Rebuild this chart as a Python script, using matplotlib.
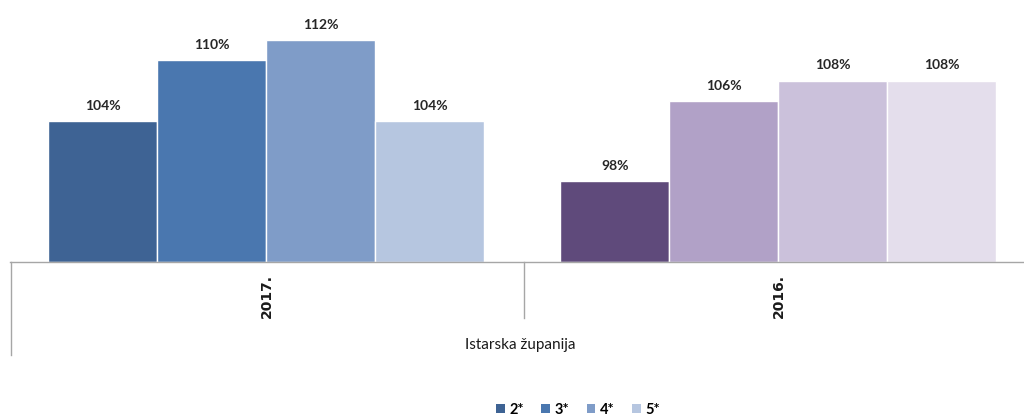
import numpy as np
import matplotlib.pyplot as plt
from matplotlib.patches import Patch

# Data
groups = ["2017.", "2016."]
series = ["2*", "3*", "4*", "5*"]
values_2017 = [104, 110, 112, 104]
values_2016 = [98, 106, 108, 108]
region = "Istarska županija"

colors_2017 = ["#3E6394", "#4A77AF", "#7F9CC8", "#B6C6E0"]
colors_2016 = ["#5F4A7B", "#B1A1C7", "#CBC1DB", "#E4DEEC"]

plt.rcParams["font.family"] = ["Lato", "DejaVu Sans"]

fig = plt.figure(figsize=(10.24, 4.19), dpi=100)
W, H = 1024.0, 419.0
ax = fig.add_axes((10 / W, 1 - 262 / H, 1014 / W, 252 / H))

width = 109 / 512
offsets = (np.arange(4) - 1.5) * width
for g, (vals, cols) in enumerate([(values_2017, colors_2017), (values_2016, colors_2016)]):
    for k in range(4):
        x = g + offsets[k]
        ax.bar(x, vals[k] - 90, bottom=90, width=width, color=cols[k],
               edgecolor="white", linewidth=1)
        ax.text(x, vals[k] + 0.9, f"{vals[k]}%", ha="center", va="bottom",
                fontsize=10, fontweight="bold", color="#262626")

ax.set_xlim(-0.5, 1.48)
ax.set_ylim(90, 115)
ax.set_xticks([])
ax.set_yticks([])
for s in ["top", "right", "left"]:
    ax.spines[s].set_visible(False)
ax.spines["bottom"].set_color("#A6A6A6")
ax.spines["bottom"].set_linewidth(1)

# multi-level category lines
fig.add_artist(plt.Line2D([10.5 / W, 10.5 / W], [1 - 262 / H, 1 - 355 / H],
                          color="#A6A6A6", lw=1))
fig.add_artist(plt.Line2D([523.5 / W, 523.5 / W], [1 - 262 / H, 1 - 318 / H],
                          color="#A6A6A6", lw=1))

# category labels
for g, name in enumerate(groups):
    xf = (10 + (g + 0.5) / 1.98 * 1014) / W
    fig.text(xf + 1 / W, 1 - 296 / H, name, rotation=90, ha="center", va="center",
             fontsize=10, fontweight="bold", family="DejaVu Sans", color="#1a1a1a")
fig.text(520 / W, 1 - 345 / H, region, ha="center", va="center",
         fontsize=11, color="#1a1a1a")

handles = [Patch(facecolor=c, edgecolor="none") for c in colors_2017]
fig.legend(handles, series, loc="center", bbox_to_anchor=(578 / W, 1 - 410 / H),
           ncol=4, frameon=False, handlelength=0.6, handleheight=0.6,
           handletextpad=0.3, columnspacing=1.2,
           prop={"weight": "bold", "size": 10.5})

fig.savefig("out.png", dpi=100)
